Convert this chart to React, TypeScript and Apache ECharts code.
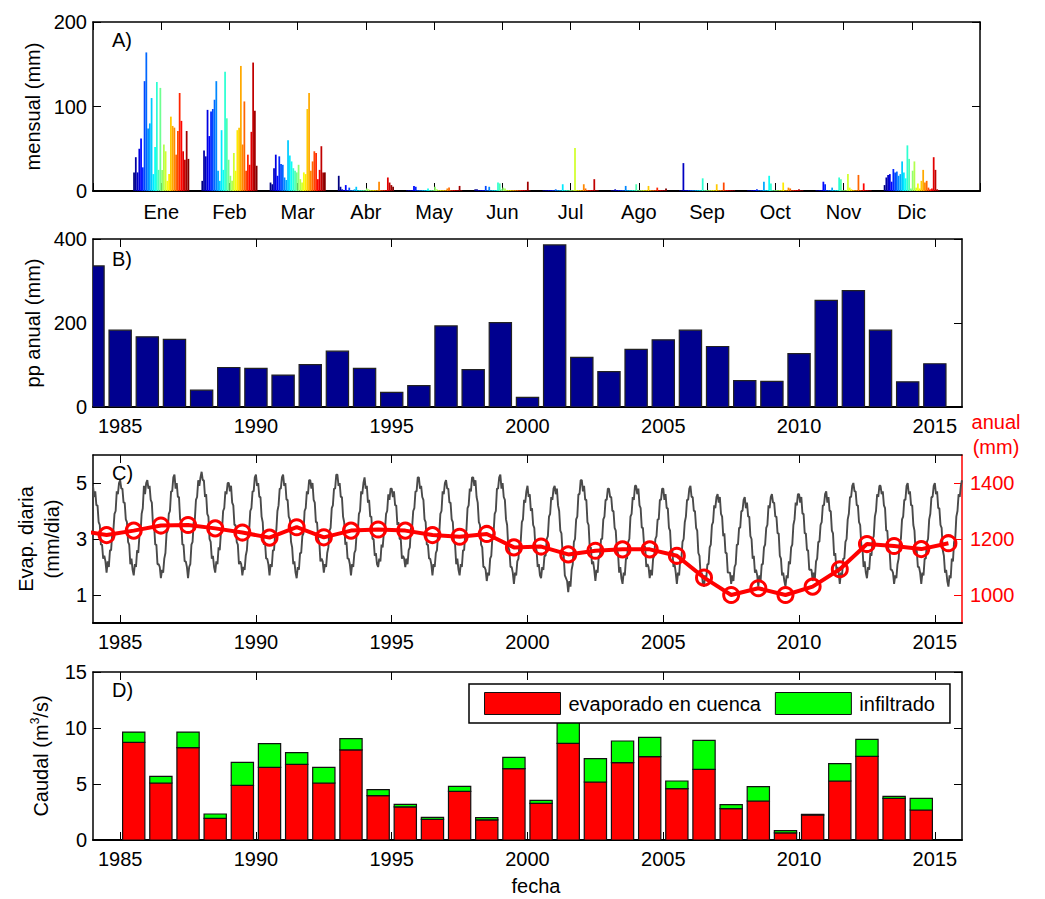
import React, { useEffect, useRef } from 'react';
import * as echarts from 'echarts';

const FONT = "'Liberation Sans', Arial, Helvetica, sans-serif";

// ---------- Panel A: monthly precipitation (mm), one value per year 1984..2015 ----------
const MONTHS = ['Ene', 'Feb', 'Mar', 'Abr', 'May', 'Jun', 'Jul', 'Ago', 'Sep', 'Oct', 'Nov', 'Dic'];
const PP_ENE = [22, 40, 22, 50, 62, 28, 130, 164, 74, 80, 110, 20, 52, 129, 25, 122, 25, 55, 47, 12, 20, 88, 77, 75, 43, 71, 116, 83, 47, 37, 71, 38];
const PP_FEB = [12, 48, 41, 96, 65, 94, 97, 108, 130, 24, 12, 72, 25, 141, 86, 37, 18, 12, 45, 24, 72, 75, 148, 55, 106, 24, 43, 31, 70, 152, 95, 30];
const PP_MAR = [10, 8, 27, 43, 18, 41, 32, 31, 16, 13, 60, 42, 35, 27, 24, 22, 31, 14, 10, 22, 20, 97, 116, 24, 35, 47, 45, 14, 25, 53, 22, 22];
const PP_ABR = [18, 5, 2, 1, 7, 1, 4, 1, 1, 2, 5, 1, 1, 1, 1, 1, 3, 2, 1, 1, 1, 1, 1, 11, 1, 1, 1, 1, 16, 10, 7, 5];
const PP_MAY = [1, 1, 1, 1, 6, 5, 1, 1, 1, 1, 1, 1, 3, 1, 1, 1, 5, 2, 1, 1, 1, 1, 1, 3, 4, 1, 1, 1, 1, 1, 6, 1];
const PP_JUN = [2, 2, 1, 1, 1, 1, 6, 1, 5, 1, 1, 1, 1, 10, 9, 2, 4, 3, 1, 1, 1, 1, 1, 1, 1, 1, 1, 1, 1, 1, 11, 1];
const PP_JUL = [1, 1, 1, 1, 1, 1, 1, 2, 1, 1, 1, 8, 1, 1, 1, 1, 1, 1, 51, 1, 1, 1, 1, 8, 3, 1, 1, 1, 1, 14, 1, 1];
const PP_AGO = [1, 1, 2, 1, 1, 1, 1, 1, 6, 1, 1, 1, 1, 1, 8, 1, 1, 1, 1, 1, 1, 6, 1, 1, 1, 1, 4, 1, 1, 1, 1, 3];
const PP_SEP = [1, 1, 33, 1, 1, 1, 1, 1, 1, 1, 1, 1, 1, 15, 1, 1, 1, 1, 1, 1, 1, 8, 1, 1, 1, 10, 1, 1, 1, 1, 1, 1];
const PP_OCT = [1, 1, 1, 1, 1, 2, 1, 1, 1, 11, 1, 1, 18, 9, 1, 1, 1, 1, 1, 1, 10, 1, 1, 4, 3, 1, 1, 1, 1, 2, 1, 1];
const PP_NOV = [1, 1, 1, 1, 11, 8, 1, 1, 1, 4, 1, 1, 1, 16, 14, 1, 1, 1, 20, 4, 2, 1, 1, 1, 19, 1, 1, 9, 1, 1, 1, 1];
const PP_DIC = [7, 16, 19, 20, 11, 26, 22, 23, 18, 20, 35, 22, 15, 54, 38, 3, 24, 35, 4, 9, 3, 12, 25, 10, 12, 4, 2, 3, 40, 25, 2, 1];
const PP_MENSUAL = [PP_ENE, PP_FEB, PP_MAR, PP_ABR, PP_MAY, PP_JUN, PP_JUL, PP_AGO, PP_SEP, PP_OCT, PP_NOV, PP_DIC];

// ---------- Panel B: annual precipitation (mm), 1984..2015 ----------
const FIRST_YEAR = 1984;
const PP_ANUAL = [336, 183, 167, 161, 40, 94, 92, 76, 101, 133, 92, 35, 51, 193, 89, 201, 23, 386, 118, 84, 137, 160, 183, 144, 63, 61, 127, 254, 277, 183, 60, 103];

// ---------- Panel C: daily evaporation (mm/dia), 24 readings per year, 1984..2015 ----------
const EVAP_DIARIA = [
  [4.9, 4.5, 4.7, 4.2, 4.2, 3.6, 3.5, 2.8, 2.8, 2.3, 2.4, 2.2, 1.8, 2.2, 2.0, 2.6, 2.6, 3.2, 3.3, 3.9, 4.0, 4.7, 4.6, 5.0],
  [5.1, 4.8, 4.8, 4.3, 4.3, 3.7, 3.6, 2.9, 2.8, 2.1, 2.3, 1.9, 1.7, 2.1, 2.0, 2.6, 2.5, 3.1, 3.2, 3.9, 4.1, 4.9, 4.6, 5.0],
  [5.1, 4.8, 4.9, 4.4, 4.3, 3.5, 3.5, 2.8, 2.8, 2.1, 2.1, 2.0, 1.6, 1.9, 1.8, 2.3, 2.5, 3.2, 3.3, 3.9, 4.0, 4.7, 4.7, 5.2],
  [5.3, 4.8, 5.0, 4.5, 4.5, 3.7, 3.6, 2.8, 2.8, 2.2, 2.2, 2.0, 1.6, 2.0, 2.1, 2.8, 2.9, 3.6, 3.7, 4.4, 4.5, 5.1, 4.9, 5.2],
  [5.4, 5.1, 5.1, 4.5, 4.6, 3.9, 3.8, 3.0, 2.9, 2.3, 2.4, 2.0, 1.8, 2.2, 2.1, 2.7, 2.6, 3.2, 3.3, 4.0, 4.1, 4.7, 4.6, 5.0],
  [5.0, 4.7, 4.9, 4.3, 4.2, 3.5, 3.5, 2.9, 2.8, 2.1, 2.2, 2.1, 1.7, 2.0, 1.9, 2.4, 2.6, 3.2, 3.3, 4.0, 4.1, 4.7, 4.7, 5.2],
  [5.3, 4.9, 5.0, 4.5, 4.5, 3.8, 3.6, 2.8, 2.9, 2.3, 2.3, 2.1, 1.7, 2.1, 2.0, 2.6, 2.6, 3.2, 3.3, 4.0, 4.2, 4.8, 4.8, 5.2],
  [5.3, 4.9, 5.0, 4.4, 4.4, 3.8, 3.7, 2.9, 2.7, 2.1, 2.2, 1.8, 1.6, 2.0, 1.9, 2.5, 2.5, 3.1, 3.2, 4.0, 4.1, 4.7, 4.6, 5.1],
  [5.1, 4.8, 5.0, 4.4, 4.3, 3.6, 3.6, 3.0, 2.9, 2.2, 2.3, 2.2, 1.8, 2.1, 2.0, 2.5, 2.7, 3.3, 3.4, 4.1, 4.2, 4.8, 4.8, 5.3],
  [5.3, 4.9, 5.0, 4.5, 4.5, 3.8, 3.6, 2.8, 2.9, 2.3, 2.3, 2.1, 1.7, 2.1, 2.0, 2.5, 2.6, 3.2, 3.2, 3.9, 4.0, 4.7, 4.6, 5.0],
  [5.2, 4.8, 4.9, 4.3, 4.4, 3.8, 3.8, 3.0, 3.0, 2.4, 2.5, 2.1, 2.0, 2.3, 2.2, 2.8, 2.7, 3.2, 3.3, 3.9, 4.0, 4.6, 4.4, 4.8],
  [4.8, 4.5, 4.7, 4.2, 4.2, 3.5, 3.6, 3.0, 3.0, 2.3, 2.4, 2.3, 2.0, 2.3, 2.1, 2.6, 2.7, 3.4, 3.4, 4.0, 4.1, 4.7, 4.7, 5.2],
  [5.2, 4.8, 4.9, 4.5, 4.4, 3.7, 3.6, 2.8, 2.8, 2.3, 2.3, 2.1, 1.7, 2.1, 2.0, 2.5, 2.6, 3.2, 3.2, 3.9, 4.0, 4.7, 4.6, 5.0],
  [5.1, 4.8, 4.8, 4.3, 4.3, 3.7, 3.6, 2.9, 2.8, 2.1, 2.3, 1.9, 1.7, 2.1, 2.0, 2.6, 2.6, 3.2, 3.3, 4.1, 4.2, 4.8, 4.7, 5.2],
  [5.2, 4.9, 5.1, 4.5, 4.3, 3.6, 3.5, 2.8, 2.7, 2.0, 2.0, 1.9, 1.5, 1.8, 1.7, 2.3, 2.4, 3.1, 3.2, 3.9, 4.0, 4.8, 4.8, 5.2],
  [5.3, 4.8, 5.0, 4.5, 4.4, 3.7, 3.5, 2.7, 2.6, 2.0, 2.0, 1.8, 1.4, 1.8, 1.7, 2.2, 2.3, 2.9, 2.9, 3.6, 3.7, 4.4, 4.3, 4.7],
  [4.9, 4.5, 4.6, 4.0, 4.1, 3.5, 3.4, 2.7, 2.6, 2.0, 2.1, 1.7, 1.6, 2.0, 1.9, 2.4, 2.4, 3.0, 3.1, 3.8, 3.9, 4.5, 4.4, 4.8],
  [4.9, 4.6, 4.8, 4.2, 4.0, 3.3, 3.2, 2.5, 2.4, 1.7, 1.6, 1.5, 1.1, 1.5, 1.3, 1.9, 2.1, 2.9, 3.0, 3.7, 3.8, 4.6, 4.6, 5.1],
  [5.1, 4.7, 4.9, 4.4, 4.4, 3.6, 3.5, 2.7, 2.7, 2.1, 2.2, 1.9, 1.5, 1.9, 1.8, 2.4, 2.4, 3.0, 3.0, 3.7, 3.8, 4.4, 4.4, 4.8],
  [4.8, 4.5, 4.5, 4.0, 4.0, 3.4, 3.3, 2.6, 2.5, 1.8, 2.0, 1.6, 1.4, 1.8, 1.7, 2.3, 2.3, 2.9, 3.0, 3.8, 3.9, 4.5, 4.4, 4.9],
  [4.9, 4.6, 4.8, 4.2, 4.1, 3.4, 3.4, 2.8, 2.7, 2.0, 2.1, 2.0, 1.6, 1.9, 1.7, 2.3, 2.4, 3.0, 3.1, 3.7, 3.7, 4.4, 4.4, 4.8],
  [4.8, 4.4, 4.6, 4.1, 4.1, 3.4, 3.3, 2.5, 2.6, 2.0, 2.1, 1.8, 1.4, 1.8, 1.7, 2.3, 2.3, 2.9, 3.0, 3.6, 3.8, 4.4, 4.4, 4.8],
  [4.9, 4.5, 4.5, 4.0, 4.0, 3.4, 3.3, 2.5, 2.4, 1.7, 1.8, 1.4, 1.3, 1.7, 1.6, 2.1, 2.1, 2.7, 2.8, 3.5, 3.6, 4.2, 4.1, 4.5],
  [4.6, 4.3, 4.5, 3.9, 3.8, 3.1, 3.2, 2.5, 2.5, 1.8, 1.8, 1.8, 1.4, 1.7, 1.5, 2.0, 2.1, 2.8, 2.8, 3.4, 3.4, 4.0, 4.0, 4.4],
  [4.5, 4.1, 4.3, 3.8, 3.8, 3.1, 3.0, 2.3, 2.4, 1.8, 1.9, 1.7, 1.3, 1.7, 1.5, 2.1, 2.1, 2.7, 2.8, 3.4, 3.5, 4.2, 4.1, 4.5],
  [4.6, 4.3, 4.3, 3.8, 3.8, 3.2, 3.2, 2.4, 2.3, 1.7, 1.8, 1.5, 1.3, 1.7, 1.6, 2.2, 2.1, 2.7, 2.8, 3.5, 3.7, 4.3, 4.2, 4.6],
  [4.6, 4.3, 4.5, 3.9, 3.9, 3.2, 3.2, 2.6, 2.6, 1.9, 1.9, 1.9, 1.5, 1.8, 1.6, 2.2, 2.3, 2.9, 2.9, 3.5, 3.6, 4.2, 4.2, 4.6],
  [4.7, 4.3, 4.5, 4.0, 4.0, 3.3, 3.2, 2.4, 2.5, 1.9, 2.0, 1.8, 1.4, 1.8, 1.7, 2.3, 2.3, 2.9, 3.0, 3.7, 3.9, 4.5, 4.5, 4.9],
  [5.0, 4.7, 4.7, 4.2, 4.2, 3.6, 3.5, 2.8, 2.7, 2.0, 2.2, 1.8, 1.6, 2.0, 1.9, 2.5, 2.4, 3.0, 3.1, 3.8, 4.0, 4.6, 4.5, 4.9],
  [4.9, 4.6, 4.7, 4.2, 4.1, 3.3, 3.3, 2.6, 2.6, 1.9, 1.9, 1.8, 1.4, 1.7, 1.6, 2.1, 2.3, 2.9, 3.0, 3.7, 3.8, 4.4, 4.4, 4.9],
  [5.0, 4.6, 4.7, 4.2, 4.2, 3.5, 3.3, 2.5, 2.6, 2.0, 2.0, 1.8, 1.4, 1.8, 1.7, 2.3, 2.3, 2.9, 3.0, 3.7, 3.9, 4.5, 4.5, 4.9],
  [5.0, 4.6, 4.7, 4.1, 4.1, 3.5, 3.4, 2.6, 2.4, 1.8, 1.9, 1.5, 1.3, 1.7, 1.6, 2.3, 2.2, 2.9, 3.0, 3.8, 4.0, 4.6, 4.5, 4.9],
];
const EVAP_DIARIA_FINAL = 5.1; // reading at 2016.0
const READINGS_PER_YEAR = 24;

// annual evaporation (mm), plotted at mid-year 1983.5..2015.5
const EVAP_ANUAL_FIRST = 1983.5;
const EVAP_ANUAL = [1230, 1214, 1230, 1248, 1250, 1238, 1223, 1205, 1242, 1206, 1230, 1234, 1230, 1214, 1208, 1218, 1170, 1173, 1145, 1158, 1163, 1163, 1140, 1062, 1000, 1024, 1000, 1030, 1092, 1182, 1175, 1164, 1185];

// ---------- Panel D: flow (m3/s), hydrological years 1985.5..2014.5 ----------
const CAUDAL_FIRST = 1985.5;
const EVAPORADO = [8.72, 5.09, 8.24, 1.93, 4.88, 6.49, 6.76, 5.09, 8.04, 3.96, 2.95, 1.85, 4.35, 1.79, 6.37, 3.27, 8.63, 5.18, 6.9, 7.44, 4.58, 6.31, 2.8, 3.48, 0.63, 2.23, 5.27, 7.47, 3.72, 2.68];
const INFILTRADO = [0.92, 0.59, 1.4, 0.39, 2.05, 2.11, 1.04, 1.4, 1.01, 0.53, 0.23, 0.17, 0.44, 0.2, 1.01, 0.27, 2.27, 2.08, 1.94, 1.73, 0.69, 2.59, 0.35, 1.28, 0.2, 0.06, 1.55, 1.52, 0.18, 1.04];

// ---------- ticks ----------
const YEAR_TICKS = [1985, 1990, 1995, 2000, 2005, 2010, 2015];
const EVAP_TICKS = [1, 3, 5];
const EVAP_ANUAL_TICKS = [1000, 1200, 1400];

const LEG_EVAP = 'evaporado en cuenca';
const LEG_INF = 'infiltrado';

// jet colormap (style only)
function jet(t: number): string {
  const c = (v: number) => Math.round(255 * Math.max(0, Math.min(1, v)));
  const r = c(1.5 - Math.abs(4 * t - 3));
  const g = c(1.5 - Math.abs(4 * t - 2));
  const b = c(1.5 - Math.abs(4 * t - 1));
  return `rgb(${r},${g},${b})`;
}

const N_YEARS = PP_ENE.length;
const JET = Array.from({ length: N_YEARS }, (_, i) => jet(i / (N_YEARS - 1)));
const BAR_STEP = 0.0257; // month units per year bar (panel A)
const YEAR_BAR_HALF = 0.41; // half bar width in years (panels B, D)

function axLine(color = '#000', width = 1.5) {
  return { show: true, onZero: false, lineStyle: { color, width } };
}
function axTick(color = '#000', customValues?: number[]) {
  const t: any = { show: true, inside: true, length: 8, lineStyle: { color, width: 1 } };
  if (customValues) t.customValues = customValues;
  return t;
}
function axLabel(margin: number, color = '#000', customValues?: number[], formatter?: any) {
  const l: any = { show: true, margin, color, fontSize: 20, fontFamily: FONT, formatter: formatter ?? ((v: number) => String(v)) };
  if (customValues) l.customValues = customValues;
  return l;
}
const noLabel = { show: false };
const noSplit = { show: false };

function rectItem(api: any, x0: number, x1: number, y0: number, y1: number, style: any) {
  const a = api.coord([x0, y1]);
  const b = api.coord([x1, y0]);
  return {
    type: 'rect',
    shape: { x: a[0], y: a[1], width: b[0] - a[0], height: b[1] - a[1] },
    style,
  };
}

function buildOption(): any {
  const grids = [
    { left: 93, top: 22, width: 887, height: 169 },
    { left: 93, top: 239, width: 869, height: 168 },
    { left: 93, top: 455, width: 869, height: 168 },
    { left: 93, top: 672, width: 869, height: 168 },
  ];

  const monthBase = { type: 'value', min: 0, max: 13, interval: 1, splitLine: noSplit };
  const yearBase = { type: 'value', min: 1984, max: 2016, splitLine: noSplit };

  const xAxis: any[] = [
    { ...monthBase, gridIndex: 0, position: 'bottom', axisLine: axLine('#000', 2), axisTick: axTick(), axisLabel: axLabel(11, '#000', undefined, (v: number) => MONTHS[v - 1] ?? '') },
    { ...monthBase, gridIndex: 0, position: 'top', axisLine: axLine(), axisTick: axTick(), axisLabel: noLabel },
    { ...yearBase, gridIndex: 1, position: 'bottom', axisLine: axLine('#000', 2), axisTick: axTick('#000', YEAR_TICKS), axisLabel: axLabel(9, '#000', YEAR_TICKS) },
    { ...yearBase, gridIndex: 1, position: 'top', axisLine: axLine(), axisTick: axTick('#000', YEAR_TICKS), axisLabel: noLabel },
    { ...yearBase, gridIndex: 2, position: 'bottom', axisLine: axLine('#000', 2), axisTick: axTick('#000', YEAR_TICKS), axisLabel: axLabel(9, '#000', YEAR_TICKS) },
    { ...yearBase, gridIndex: 2, position: 'top', axisLine: axLine(), axisTick: axTick('#000', YEAR_TICKS), axisLabel: noLabel },
    { ...yearBase, gridIndex: 3, position: 'bottom', axisLine: axLine('#000', 2), axisTick: axTick('#000', YEAR_TICKS), axisLabel: axLabel(9, '#000', YEAR_TICKS) },
    { ...yearBase, gridIndex: 3, position: 'top', axisLine: axLine(), axisTick: axTick('#000', YEAR_TICKS), axisLabel: noLabel },
  ];

  const nameStyle = { fontSize: 20, color: '#000', fontFamily: FONT };
  const yAxis: any[] = [
    { type: 'value', gridIndex: 0, position: 'left', min: 0, max: 200, interval: 100, splitLine: noSplit, axisLine: axLine(), axisTick: axTick(), axisLabel: axLabel(6),
      name: 'mensual (mm)', nameLocation: 'middle', nameRotate: 90, nameGap: 50, nameTextStyle: nameStyle },
    { type: 'value', gridIndex: 0, position: 'right', min: 0, max: 200, interval: 100, splitLine: noSplit, axisLine: axLine(), axisTick: axTick(), axisLabel: noLabel },
    { type: 'value', gridIndex: 1, position: 'left', min: 0, max: 400, interval: 200, splitLine: noSplit, axisLine: axLine(), axisTick: axTick(), axisLabel: axLabel(6),
      name: 'pp anual (mm)', nameLocation: 'middle', nameRotate: 90, nameGap: 50, nameTextStyle: nameStyle },
    { type: 'value', gridIndex: 1, position: 'right', min: 0, max: 400, interval: 200, splitLine: noSplit, axisLine: axLine(), axisTick: axTick(), axisLabel: noLabel },
    { type: 'value', gridIndex: 2, position: 'left', min: 0, max: 6, splitLine: noSplit, axisLine: axLine(), axisTick: axTick('#000', EVAP_TICKS), axisLabel: axLabel(6, '#000', EVAP_TICKS),
      name: 'Evap. diaria\n(mm/dia)', nameLocation: 'middle', nameRotate: 90, nameGap: 26, nameTextStyle: { ...nameStyle, lineHeight: 26 } },
    { type: 'value', gridIndex: 2, position: 'right', min: 900, max: 1500, splitLine: noSplit, axisLine: axLine('#ff0000'), axisTick: axTick('#ff0000', EVAP_ANUAL_TICKS), axisLabel: axLabel(8, '#ff0000', EVAP_ANUAL_TICKS) },
    { type: 'value', gridIndex: 3, position: 'left', min: 0, max: 15, interval: 5, splitLine: noSplit, axisLine: axLine(), axisTick: axTick(), axisLabel: axLabel(6),
      name: 'Caudal (m{sup|3}/s)', nameLocation: 'middle', nameRotate: 90, nameGap: 40,
      nameTextStyle: { ...nameStyle, lineHeight: 24, rich: { sup: { fontSize: 12, fontFamily: FONT, color: '#000', verticalAlign: 'top', lineHeight: 24 } } } },
    { type: 'value', gridIndex: 3, position: 'right', min: 0, max: 15, interval: 5, splitLine: noSplit, axisLine: axLine(), axisTick: axTick(), axisLabel: noLabel },
  ];

  // Panel A data: [x position, value, year index]
  const monthlyData: number[][] = [];
  PP_MENSUAL.forEach((row, m) => {
    row.forEach((v, i) => {
      monthlyData.push([m + 1 + (i - (N_YEARS - 1) / 2) * BAR_STEP, v, i]);
    });
  });

  const annualData = PP_ANUAL.map((v, i) => [FIRST_YEAR + i, v]);

  const dailyData: number[][] = [];
  EVAP_DIARIA.forEach((row, yi) => {
    row.forEach((v, k) => dailyData.push([FIRST_YEAR + yi + k / READINGS_PER_YEAR, v]));
  });
  dailyData.push([FIRST_YEAR + EVAP_DIARIA.length, EVAP_DIARIA_FINAL]);

  const evapAnualData = EVAP_ANUAL.map((v, i) => [EVAP_ANUAL_FIRST + i, v]);
  const evapData = EVAPORADO.map((v, i) => [CAUDAL_FIRST + i, v, 0]);
  const infData = INFILTRADO.map((v, i) => [CAUDAL_FIRST + i, v, EVAPORADO[i]]);

  const redStyle = { fill: '#ff0000', stroke: '#111', lineWidth: 1.2 };
  const greenStyle = { fill: '#00ff00', stroke: '#111', lineWidth: 1.2 };

  const series: any[] = [
    {
      type: 'custom', xAxisIndex: 0, yAxisIndex: 0, clip: true,
      dimensions: ['x', 'pp', 'year'], encode: { x: 0, y: 1 },
      data: monthlyData,
      renderItem: (params: any, api: any) => {
        const x = api.value(0);
        return rectItem(api, x - BAR_STEP / 2, x + BAR_STEP / 2, 0, api.value(1), { fill: JET[api.value(2)] });
      },
    },
    {
      type: 'custom', xAxisIndex: 2, yAxisIndex: 2, clip: true,
      dimensions: ['year', 'pp'], encode: { x: 0, y: 1 },
      data: annualData,
      renderItem: (params: any, api: any) => {
        const x = api.value(0);
        return rectItem(api, x - YEAR_BAR_HALF, x + YEAR_BAR_HALF, 0, api.value(1), { fill: '#00008f', stroke: '#222', lineWidth: 1.2 });
      },
    },
    {
      type: 'line', xAxisIndex: 4, yAxisIndex: 4, data: dailyData, showSymbol: false, symbol: 'none', clip: true,
      lineStyle: { color: '#4a4a4a', width: 1.9 }, z: 2,
    },
    {
      type: 'line', xAxisIndex: 4, yAxisIndex: 5, data: evapAnualData, clip: true,
      symbol: 'circle', symbolSize: 15,
      lineStyle: { color: '#ff0000', width: 4 },
      itemStyle: { color: 'rgba(255,255,255,0)', borderColor: '#ff0000', borderWidth: 3 }, z: 3,
    },
    {
      type: 'custom', name: LEG_EVAP, xAxisIndex: 6, yAxisIndex: 6, clip: true,
      dimensions: ['year', 'q', 'base'], encode: { x: 0, y: 1 },
      data: evapData,
      itemStyle: { color: '#ff0000', borderColor: '#111', borderWidth: 1 },
      renderItem: (params: any, api: any) => {
        const x = api.value(0);
        const base = api.value(2);
        return rectItem(api, x - YEAR_BAR_HALF, x + YEAR_BAR_HALF, base, base + api.value(1), redStyle);
      },
    },
    {
      type: 'custom', name: LEG_INF, xAxisIndex: 6, yAxisIndex: 6, clip: true,
      dimensions: ['year', 'q', 'base'], encode: { x: 0, y: 1 },
      data: infData,
      itemStyle: { color: '#00ff00', borderColor: '#111', borderWidth: 1 },
      renderItem: (params: any, api: any) => {
        const x = api.value(0);
        const base = api.value(2);
        return rectItem(api, x - YEAR_BAR_HALF, x + YEAR_BAR_HALF, base, base + api.value(1), greenStyle);
      },
    },
  ];

  const txt = (text: string, x: number, y: number, extra: any = {}) => ({
    type: 'text', x, y, z: 10,
    style: { text, fill: '#000', fontSize: 20, fontFamily: FONT, align: 'left', verticalAlign: 'middle', textAlign: 'left', textVerticalAlign: 'middle', ...extra },
  });

  return {
    animation: false,
    backgroundColor: '#fff',
    textStyle: { fontFamily: FONT },
    grid: grids,
    xAxis,
    yAxis,
    series,
    legend: {
      data: [
        { name: LEG_EVAP, itemStyle: { color: '#ff0000', borderColor: '#111', borderWidth: 1 } },
        { name: LEG_INF, itemStyle: { color: '#00ff00', borderColor: '#111', borderWidth: 1 } },
      ],
      left: 469, top: 684, orient: 'horizontal',
      icon: 'rect', itemWidth: 76, itemHeight: 22, itemGap: 14,
      padding: [8, 15, 8, 15],
      borderColor: '#000', borderWidth: 1.5, backgroundColor: '#fff',
      selectedMode: false,
      textStyle: { fontSize: 20, color: '#000', fontFamily: FONT, padding: [0, 0, 0, 3] },
    },
    graphic: [
      txt('A)', 112, 40),
      txt('B)', 112, 259),
      txt('C)', 112, 473),
      txt('D)', 112, 690),
      txt('anual\n(mm)', 996, 434, { fill: '#ff0000', align: 'center', textAlign: 'center', lineHeight: 25 }),
      txt('fecha', 536, 886, { align: 'center', textAlign: 'center' }),
    ],
  };
}

export default function App() {
  const ref = useRef<HTMLDivElement>(null);
  useEffect(() => {
    if (!ref.current) return;
    const chart = echarts.init(ref.current, null, { renderer: 'svg' });
    chart.setOption(buildOption());
    return () => chart.dispose();
  }, []);
  return (
    <div
      ref={ref}
      style={{ position: 'absolute', left: 0, top: 0, width: 1045, height: 899, background: '#fff' }}
    />
  );
}
